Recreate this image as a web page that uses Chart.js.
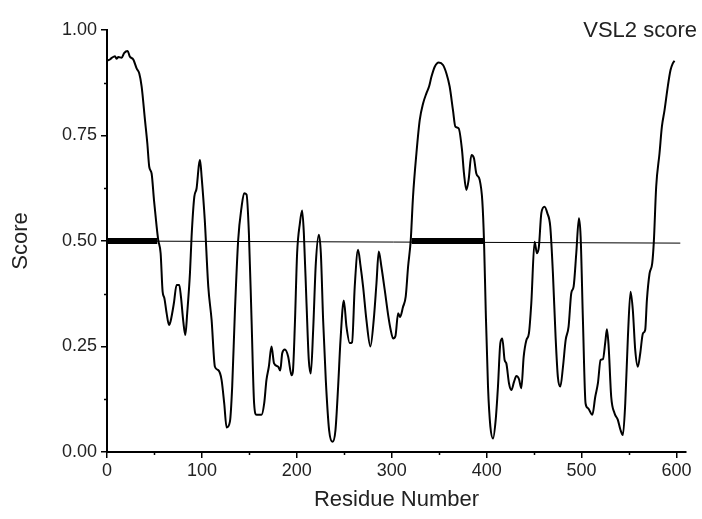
<!DOCTYPE html>
<html>
<head>
<meta charset="utf-8">
<script src="https://cdn.jsdelivr.net/npm/chart.js@4.4.0/dist/chart.umd.min.js"></script>
<style>
  html, body { margin: 0; padding: 0; background: #fff; }
  #wrap { width: 702px; height: 519px; }
</style>
</head>
<body>
<div id="wrap"><canvas id="myChart" width="702" height="519"></canvas></div>
<script>
// VSL2 disorder score per residue
const residue = [0, 3, 5, 8.4, 10, 12, 15.4, 18, 21.8, 24, 27.7, 31.2, 34, 36.5, 40, 42.5, 44.5, 47, 49.5, 52.3,
  54, 56.5, 58.6, 60.4, 62.8, 65.3, 67, 70.5, 73.3, 76.1, 77.9, 80.4, 82.5, 84.5, 87.4, 89.1, 92, 94.4, 96.8, 98,
  99.7, 103, 106.7, 110.2, 113.7, 117.2, 120.7, 123.5, 126, 129.5, 131.9, 134.7, 138.2, 141.8, 144.5, 147, 149.5, 152.3, 155, 157.5,
  162.8, 165.6, 168, 170.5, 173.3, 176, 180.4, 182.5, 184.6, 187.4, 190.9, 194.4, 195.8, 197.9, 200.3, 203.2, 205.6, 207.4, 210.2, 212.6,
  214.7, 217.2, 220, 223.2, 225.3, 227.7, 230.5, 234, 237.6, 240.7, 243.5, 246, 249.5, 252.3, 255.8, 258.2, 261, 264.5, 267, 269.8,
  273.3, 277.5, 281, 283.9, 286.3, 289.1, 292.6, 296.5, 298.9, 301.4, 303.9, 306.7, 308.8, 311.9, 314.7, 317.2, 320, 322.4, 326, 329.5,
  333, 336.5, 339.3, 341.8, 345.3, 349.5, 354, 357.6, 361, 364.5, 367, 370.5, 374, 376.1, 378.6, 381, 383.9, 386.6, 389.1, 392.6,
  395.4, 397.2, 399, 401.4, 403.9, 406.7, 409.5, 411.9, 414.4, 416.5, 418.9, 420.7, 423.5, 426, 428.8, 431.3, 434, 436.5, 439, 441.8,
  444.5, 447, 450.5, 453, 455, 457.6, 461, 463.9, 467, 469.8, 472.6, 475, 477.6, 480.4, 483.2, 486.3, 489.1, 491.6, 494.4, 497.2,
  499, 501.4, 504.2, 506.7, 511.3, 514.4, 517.2, 520, 522.5, 525, 526.7, 528.4, 531.2, 534.7, 538.2, 541, 543.5, 546, 548.8, 551.6,
  554, 556.5, 559.3, 561.8, 564.6, 567, 568.8, 571.6, 574.4, 576.1, 578.6, 582.1, 584.6, 587.4, 590.8, 593.7, 596.1, 597.9];
const score = [0.927, 0.930, 0.934, 0.938, 0.932, 0.936, 0.934, 0.945, 0.950, 0.937, 0.930, 0.909, 0.897, 0.866, 0.787, 0.731, 0.676, 0.660, 0.597, 0.534,
  0.502, 0.471, 0.380, 0.365, 0.329, 0.301, 0.310, 0.353, 0.396, 0.396, 0.368, 0.309, 0.277, 0.329, 0.424, 0.510, 0.605, 0.625, 0.680, 0.692,
  0.652, 0.550, 0.392, 0.313, 0.202, 0.194, 0.171, 0.115, 0.058, 0.072, 0.155, 0.329, 0.502, 0.581, 0.613, 0.610, 0.518, 0.313, 0.115, 0.088,
  0.088, 0.115, 0.171, 0.202, 0.250, 0.210, 0.202, 0.193, 0.234, 0.243, 0.226, 0.182, 0.190, 0.300, 0.471, 0.542, 0.572, 0.518, 0.352, 0.218,
  0.186, 0.289, 0.447, 0.515, 0.471, 0.313, 0.171, 0.052, 0.024, 0.052, 0.155, 0.265, 0.359, 0.297, 0.258, 0.260, 0.392, 0.479, 0.443, 0.392,
  0.313, 0.250, 0.313, 0.400, 0.475, 0.439, 0.384, 0.320, 0.289, 0.269, 0.275, 0.329, 0.320, 0.344, 0.368, 0.439, 0.502, 0.605, 0.708, 0.787,
  0.826, 0.850, 0.866, 0.889, 0.913, 0.923, 0.917, 0.897, 0.866, 0.810, 0.771, 0.767, 0.716, 0.660, 0.621, 0.645, 0.704, 0.696, 0.660, 0.645,
  0.595, 0.500, 0.336, 0.155, 0.060, 0.032, 0.076, 0.155, 0.258, 0.269, 0.218, 0.210, 0.163, 0.147, 0.166, 0.180, 0.173, 0.151, 0.226, 0.265,
  0.281, 0.352, 0.498, 0.471, 0.486, 0.566, 0.581, 0.566, 0.534, 0.423, 0.273, 0.178, 0.155, 0.202, 0.265, 0.297, 0.376, 0.392, 0.471, 0.554,
  0.510, 0.313, 0.115, 0.104, 0.088, 0.131, 0.163, 0.218, 0.220, 0.261, 0.291, 0.254, 0.131, 0.092, 0.076, 0.052, 0.040, 0.115, 0.273, 0.380,
  0.336, 0.242, 0.202, 0.234, 0.281, 0.289, 0.360, 0.423, 0.447, 0.498, 0.629, 0.708, 0.771, 0.810, 0.866, 0.905, 0.921, 0.927];

// threshold line and the disordered regions drawn as thick bars on it
const cutoffX = [0, 604];
const cutoffY = [0.5, 0.495];
const disordered = [[0, 53], [321, 397]];

const xTicks = [0, 100, 200, 300, 400, 500, 600];
const yTicks = [0, 0.25, 0.5, 0.75, 1];

const pts = (xs, ys) => xs.map((x, i) => ({x: x, y: ys[i]}));

const datasets = [
  {label: 'VSL2', data: pts(residue, score), borderColor: '#000', borderWidth: 2, pointRadius: 0, cubicInterpolationMode: 'monotone'},
  {label: 'cutoff', data: pts(cutoffX, cutoffY), borderColor: '#000', borderWidth: 1, pointRadius: 0}
];
disordered.forEach(r => {
  datasets.push({label: 'region', data: pts(r, [0.5, 0.5]), borderColor: '#000', borderWidth: 6, pointRadius: 0, borderCapStyle: 'butt'});
});

// minor ticks + corner label
const extras = {
  id: 'extras',
  afterDraw(chart) {
    const ctx = chart.ctx;
    const xs = chart.scales.x, ys = chart.scales.y;
    ctx.save();
    ctx.strokeStyle = '#000';
    ctx.lineWidth = 1.5;
    ctx.beginPath();
    for (let v = 50; v <= 610; v += 100) {
      const px = Math.round(xs.getPixelForValue(v)) + 0.5;
      ctx.moveTo(px, xs.top);
      ctx.lineTo(px, xs.top + 3);
    }
    for (let v = 0.125; v < 1; v += 0.25) {
      const py = Math.round(ys.getPixelForValue(v)) + 0.5;
      ctx.moveTo(ys.right, py);
      ctx.lineTo(ys.right - 3, py);
    }
    ctx.stroke();
    ctx.fillStyle = '#222';
    ctx.font = '22px "Liberation Sans", Arial, sans-serif';
    ctx.textAlign = 'right';
    ctx.textBaseline = 'alphabetic';
    ctx.fillText('VSL2 score', 697, 37);
    ctx.restore();
  }
};

const tickFont = {family: '"Liberation Sans", Arial, sans-serif', size: 18};
const titleFont = {family: '"Liberation Sans", Arial, sans-serif', size: 22};

const options = {
  type: 'line',
  data: {datasets: datasets},
  options: {
    responsive: false,
    animation: false,
    layout: {padding: {top: 30, right: 16, left: 0, bottom: 0}},
    plugins: {legend: {display: false}, tooltip: {enabled: false}},
    scales: {
      x: {
        type: 'linear',
        min: 0,
        max: 610,
        afterFit: s => { s.height = 67; },
        afterBuildTicks: s => { s.ticks = xTicks.map(v => ({value: v})); },
        ticks: {font: tickFont, color: '#222', padding: 2, maxRotation: 0},
        grid: {drawOnChartArea: false, drawTicks: true, tickLength: 6, color: '#000', lineWidth: 1.5},
        border: {display: true, color: '#000', width: 2},
        title: {display: true, text: 'Residue Number', font: titleFont, color: '#222', padding: {top: 0, bottom: 6}}
      },
      y: {
        min: 0,
        max: 1,
        afterFit: s => { s.width = 107; },
        afterBuildTicks: s => { s.ticks = yTicks.map(v => ({value: v})); },
        ticks: {font: tickFont, color: '#222', padding: 4, callback: v => v.toFixed(2)},
        grid: {drawOnChartArea: false, drawTicks: true, tickLength: 6, color: '#000', lineWidth: 1.5},
        border: {display: true, color: '#000', width: 2},
        title: {display: true, text: 'Score', font: titleFont, color: '#222', padding: {top: 8, bottom: 0}}
      }
    }
  },
  plugins: [extras]
};

const ctx = document.getElementById('myChart').getContext('2d');
const chart = new Chart(ctx, options);
</script>
</body>
</html>
